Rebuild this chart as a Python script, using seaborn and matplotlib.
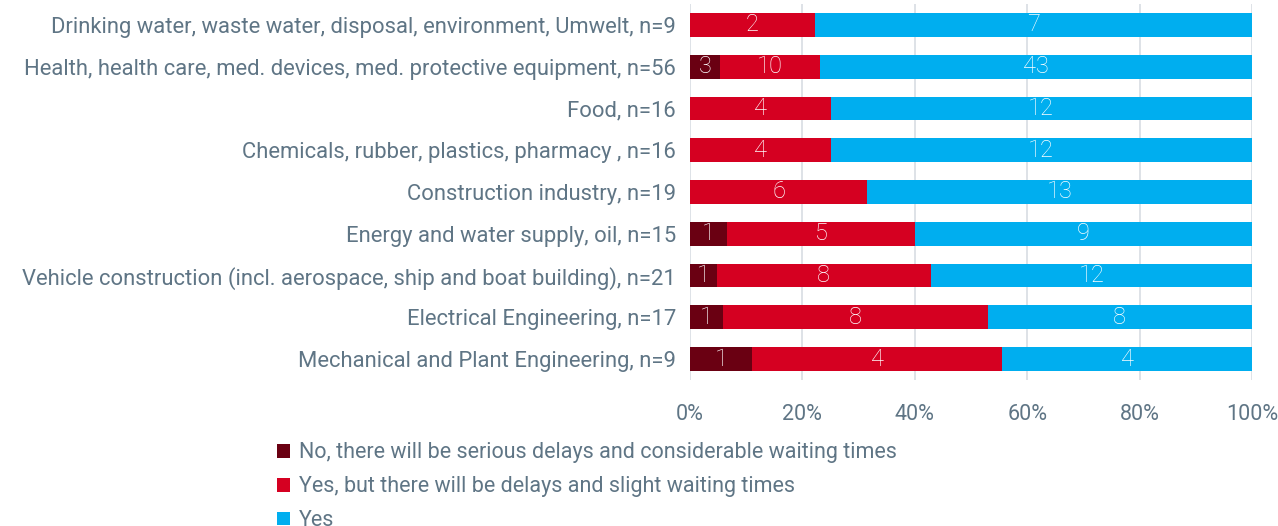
import matplotlib
matplotlib.use("Agg")
import matplotlib.pyplot as plt
from matplotlib.patches import Patch
import seaborn as sns
import pandas as pd
import numpy as np

categories = [
    "Drinking water, waste water, disposal, environment, Umwelt, n=9",
    "Health, health care, med. devices, med. protective equipment, n=56",
    "Food, n=16",
    "Chemicals, rubber, plastics, pharmacy , n=16",
    "Construction industry, n=19",
    "Energy and water supply, oil, n=15",
    "Vehicle construction (incl. aerospace, ship and boat building), n=21",
    "Electrical Engineering, n=17",
    "Mechanical and Plant Engineering, n=9",
]
no_serious = [0, 3, 0, 0, 0, 1, 1, 1, 1]
yes_delays = [2, 10, 4, 4, 6, 5, 8, 8, 4]
yes_plain = [7, 43, 12, 12, 13, 9, 12, 8, 4]

series_names = [
    "No, there will be serious delays and considerable waiting times",
    "Yes, but there will be delays and slight waiting times",
    "Yes",
]
colors = ["#6a0012", "#d50021", "#00aeef"]
text_color = "#5f7585"

sns.set_theme(style="white")
plt.rcParams["font.family"] = ["Roboto", "DejaVu Sans"]

counts = np.array([no_serious, yes_delays, yes_plain], dtype=float)
totals = counts.sum(axis=0)
shares = counts / totals * 100
cum = np.cumsum(shares, axis=0)

df = pd.DataFrame({"category": categories})
for i in range(3):
    df[f"cum{i}"] = cum[i]

fig = plt.figure(figsize=(12.78, 5.26), dpi=100)
ax = fig.add_axes([690 / 1278, 1 - 380 / 526, (1252 - 690) / 1278, 376 / 526])

# Draw stacked segments back to front: each bar spans from 0 to its cumulative share
for i in [2, 1, 0]:
    sns.barplot(data=df, x=f"cum{i}", y="category", orient="h", color=colors[i],
                width=0.57, saturation=1, ax=ax, linewidth=0, order=categories)

# Segment value labels
for i in range(3):
    left = cum[i] - shares[i]
    for j, cat in enumerate(categories):
        v = counts[i, j]
        if v > 0:
            ax.text(left[j] + shares[i, j] / 2, j, f"{int(v)}", ha="center", va="center",
                    color="white", fontsize=17, fontweight="light")

ax.set_xlim(0, 100)
ax.set_ylim(len(categories) - 0.5, -0.5)
ax.set_xticks(np.arange(0, 101, 20))
ax.set_xticklabels([f"{t}%" for t in range(0, 101, 20)])
ax.xaxis.grid(True, color="#d8dde3", linewidth=1.2)
ax.set_axisbelow(True)
ax.set_xlabel("")
ax.set_ylabel("")
for s in ax.spines.values():
    s.set_visible(False)
ax.tick_params(axis="x", colors=text_color, labelsize=15.5, length=0, pad=17)
ax.tick_params(axis="y", colors=text_color, labelsize=15.8, length=0, pad=10)

handles = [Patch(facecolor=c, edgecolor="none") for c in colors]
fig.legend(handles, series_names, loc="upper left", bbox_to_anchor=(258 / 1278, 1 - 423 / 526),
           frameon=False, prop={"size": 15.5}, labelcolor=text_color,
           handlelength=0.6, handleheight=0.6, handletextpad=0.4, labelspacing=0.6)

fig.savefig("out.png", dpi=100)
